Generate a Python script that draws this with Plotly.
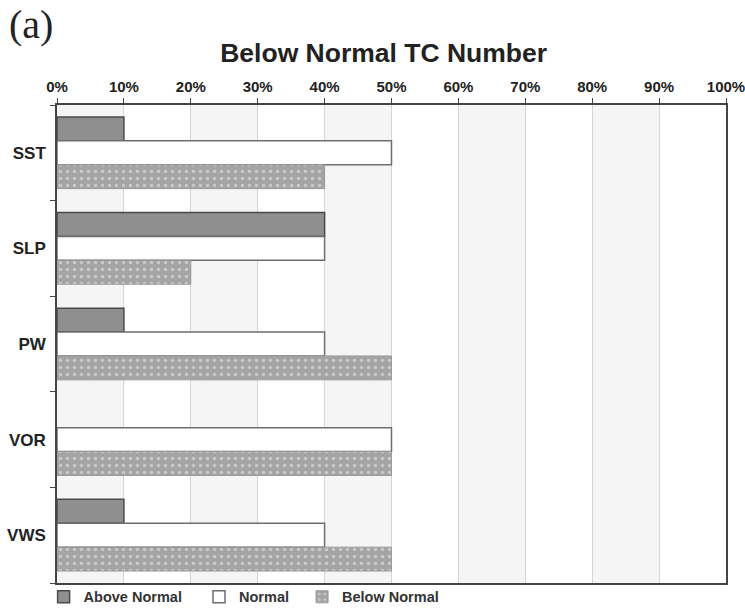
import plotly.graph_objects as go

# Predictor categories (top to bottom) and the share of cases in each class
predictors = ["SST", "SLP", "PW", "VOR", "VWS"]
above_normal = [10, 40, 10, 0, 10]
normal = [50, 40, 40, 50, 40]
below_normal = [40, 20, 50, 50, 50]
x_ticks = [0, 10, 20, 30, 40, 50, 60, 70, 80, 90, 100]

font_bold = "Liberation Sans, Arial, sans-serif"


def outline_widths(values, width):
    # no outline on empty bars so a zero value leaves no sliver at the axis
    return [width if v > 0 else 0 for v in values]


fig = go.Figure()
fig.add_trace(go.Bar(
    y=predictors, x=above_normal, orientation="h",
    name="<b>Above Normal</b>&nbsp;&nbsp;&nbsp;",
    marker=dict(color="#8f8f8f",
                line=dict(color="#4a4a4a", width=outline_widths(above_normal, 1.5))),
))
fig.add_trace(go.Bar(
    y=predictors, x=normal, orientation="h",
    name="<b>Normal</b>&nbsp;&nbsp;",
    marker=dict(color="#ffffff",
                line=dict(color="#6e6e6e", width=outline_widths(normal, 1.5))),
))
fig.add_trace(go.Bar(
    y=predictors, x=below_normal, orientation="h", name="<b>Below Normal</b>",
    marker=dict(
        color="#a4a4a4",
        line=dict(color="#9a9a9a", width=outline_widths(below_normal, 1)),
        pattern=dict(shape=".", bgcolor="#a4a4a4", fgcolor="#eeeeee",
                     size=7, solidity=0.2),
    ),
))

# alternating light bands between gridlines
shapes = []
for i in range(0, len(x_ticks) - 1, 2):
    shapes.append(dict(
        type="rect", xref="x", yref="paper",
        x0=x_ticks[i], x1=x_ticks[i + 1], y0=0, y1=1,
        fillcolor="#f5f5f5", line=dict(width=0), layer="below",
    ))

fig.update_layout(
    width=745, height=608,
    margin=dict(l=57, r=19, t=105, b=25, autoexpand=False),
    paper_bgcolor="white", plot_bgcolor="white",
    barmode="group", bargap=0.25, bargroupgap=0,
    shapes=shapes,
    title=dict(
        text="<b>Below Normal TC Number</b>",
        x=0.515, xanchor="center", y=0.913, yanchor="middle",
        font=dict(family=font_bold, size=26.5, color="#222222"),
    ),
    xaxis=dict(
        side="top", range=[0, 100], tickvals=x_ticks,
        ticktext=[f"<b>{v}%</b>" for v in x_ticks],
        tickfont=dict(family=font_bold, size=15, color="#222222"),
        ticklabeloverflow="allow",
        ticks="outside", ticklen=5, tickcolor="#444444",
        showgrid=True, gridcolor="#d4d4d4", gridwidth=1,
        showline=True, linecolor="#444444", linewidth=1.5, mirror=True,
        zeroline=False, fixedrange=True,
    ),
    yaxis=dict(
        autorange="reversed", type="category",
        tickvals=predictors, ticktext=[f"<b>{p}</b>" for p in predictors],
        tickfont=dict(family=font_bold, size=17, color="#222222"),
        tickson="boundaries", ticks="outside", ticklen=5, tickcolor="#444444",
        showgrid=False,
        showline=True, linecolor="#444444", linewidth=1.5, mirror=True,
        ticklabelstandoff=6,
    ),
    legend=dict(
        orientation="h", x=-0.02, xanchor="left", y=-0.029, yanchor="middle",
        font=dict(family=font_bold, size=14.5, color="#333333"),
        bgcolor="rgba(0,0,0,0)", itemclick=False, traceorder="normal",
    ),
    annotations=[dict(
        text="(a)", xref="paper", yref="paper", x=-0.075, y=1.169,
        xanchor="left", yanchor="middle", showarrow=False,
        font=dict(family="Liberation Serif, Times New Roman, serif",
                  size=40, color="#222222"),
    )],
)

fig.write_html("out.html")
